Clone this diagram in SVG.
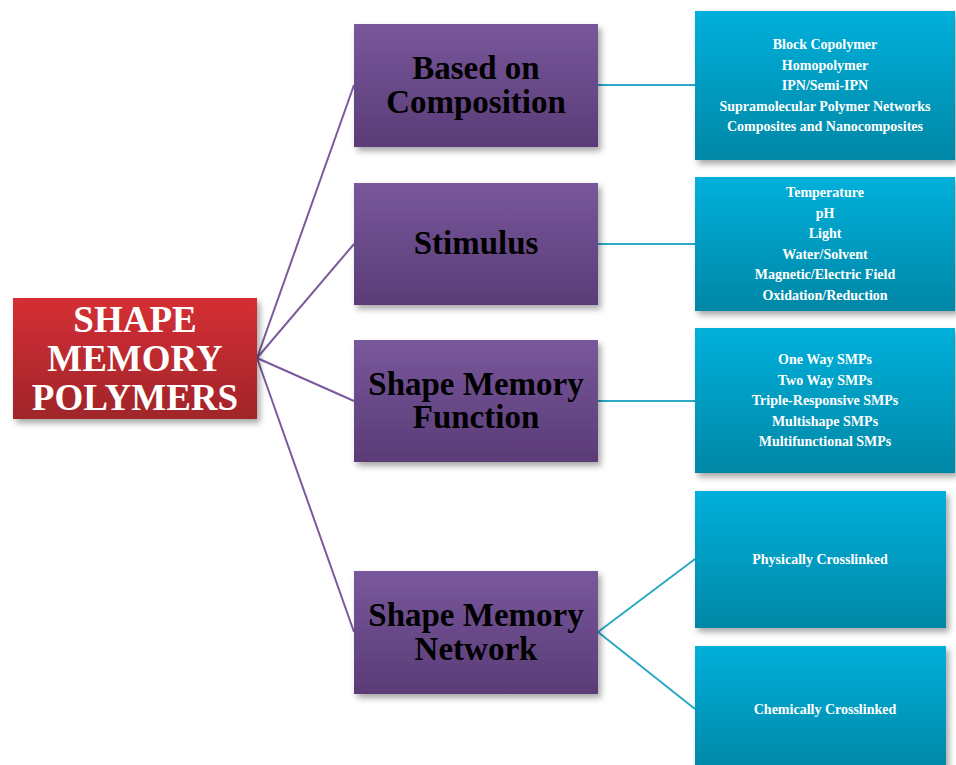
<svg xmlns="http://www.w3.org/2000/svg" width="956" height="765" viewBox="0 0 956 765">
<defs>
<linearGradient id="gRed" x1="0" y1="0" x2="0" y2="1"><stop offset="0" stop-color="#d52f34"/><stop offset="1" stop-color="#a0252a"/></linearGradient>
<linearGradient id="gPur" x1="0" y1="0" x2="0" y2="1"><stop offset="0" stop-color="#78579b"/><stop offset="1" stop-color="#5a3c77"/></linearGradient>
<linearGradient id="gCy" x1="0" y1="0" x2="0" y2="1"><stop offset="0" stop-color="#00b0db"/><stop offset="1" stop-color="#0087a6"/></linearGradient>
<filter id="sh" x="-10%" y="-10%" width="125%" height="130%"><feDropShadow dx="3" dy="4" stdDeviation="3" flood-color="#000" flood-opacity="0.35"/></filter>
</defs>
<style>
.red{fill:url(#gRed);filter:url(#sh)}
.pur{fill:url(#gPur);filter:url(#sh)}
.cy{fill:url(#gCy);filter:url(#sh)}
.tR{font-family:"Liberation Serif","Times New Roman",serif;font-weight:bold;font-size:37px;fill:#fff;text-anchor:middle}
.tP{font-family:"Liberation Serif","Times New Roman",serif;font-weight:bold;font-size:33px;fill:#000;text-anchor:middle}
.tC{font-family:"Liberation Serif","Times New Roman",serif;font-weight:bold;font-size:14px;fill:#fff;text-anchor:middle}
.lp{stroke:#7a5a9c;stroke-width:2;fill:none}
.lc{stroke:#2aa8c6;stroke-width:2;fill:none}
</style>
<rect width="956" height="765" fill="#fff"/>
<g id="connectors">
<line class="lp" x1="257" y1="358" x2="354" y2="85"/>
<line class="lp" x1="257" y1="358" x2="354" y2="244"/>
<line class="lp" x1="257" y1="358" x2="354" y2="401"/>
<line class="lp" x1="257" y1="358" x2="354" y2="632"/>
<line class="lc" x1="598" y1="85" x2="695" y2="85"/>
<line class="lc" x1="598" y1="244" x2="695" y2="244"/>
<line class="lc" x1="598" y1="401" x2="695" y2="401"/>
<line class="lc" x1="598" y1="632" x2="695" y2="559"/>
<line class="lc" x1="598" y1="632" x2="695" y2="709"/>
</g>
<g id="root">
<rect class="red" x="13" y="298" width="244" height="121"/>
<text class="tR" x="135" y="332">SHAPE</text>
<text class="tR" x="135" y="371">MEMORY</text>
<text class="tR" x="135" y="410">POLYMERS</text>
</g>
<g id="composition">
<rect class="pur" x="354" y="24" width="244" height="123"/>
<text class="tP" x="476" y="79">Based on</text>
<text class="tP" x="476" y="113">Composition</text>
</g>
<g id="stimulus">
<rect class="pur" x="354" y="183" width="244" height="122"/>
<text class="tP" x="476" y="254">Stimulus</text>
</g>
<g id="function">
<rect class="pur" x="354" y="340" width="244" height="122"/>
<text class="tP" x="476" y="395">Shape Memory</text>
<text class="tP" x="476" y="428">Function</text>
</g>
<g id="network">
<rect class="pur" x="354" y="571" width="244" height="123"/>
<text class="tP" x="476" y="626">Shape Memory</text>
<text class="tP" x="476" y="660">Network</text>
</g>
<g id="comp-list">
<rect class="cy" x="695" y="11" width="260" height="149"/>
<text class="tC" x="825" y="49">Block Copolymer</text>
<text class="tC" x="825" y="69.5">Homopolymer</text>
<text class="tC" x="825" y="90">IPN/Semi-IPN</text>
<text class="tC" x="825" y="110.5">Supramolecular Polymer Networks</text>
<text class="tC" x="825" y="131">Composites and Nanocomposites</text>
</g>
<g id="stim-list">
<rect class="cy" x="695" y="177" width="260" height="134"/>
<text class="tC" x="825" y="197">Temperature</text>
<text class="tC" x="825" y="217.5">pH</text>
<text class="tC" x="825" y="238">Light</text>
<text class="tC" x="825" y="258.5">Water/Solvent</text>
<text class="tC" x="825" y="279">Magnetic/Electric Field</text>
<text class="tC" x="825" y="299.5">Oxidation/Reduction</text>
</g>
<g id="func-list">
<rect class="cy" x="695" y="328" width="260" height="145"/>
<text class="tC" x="825" y="364">One Way SMPs</text>
<text class="tC" x="825" y="384.5">Two Way SMPs</text>
<text class="tC" x="825" y="405">Triple-Responsive SMPs</text>
<text class="tC" x="825" y="425.5">Multishape SMPs</text>
<text class="tC" x="825" y="446">Multifunctional SMPs</text>
</g>
<g id="physical">
<rect class="cy" x="695" y="491" width="251" height="137"/>
<text class="tC" x="820" y="564">Physically Crosslinked</text>
</g>
<g id="chemical">
<rect class="cy" x="695" y="646" width="251" height="125"/>
<text class="tC" x="825" y="714">Chemically Crosslinked</text>
</g>
</svg>
